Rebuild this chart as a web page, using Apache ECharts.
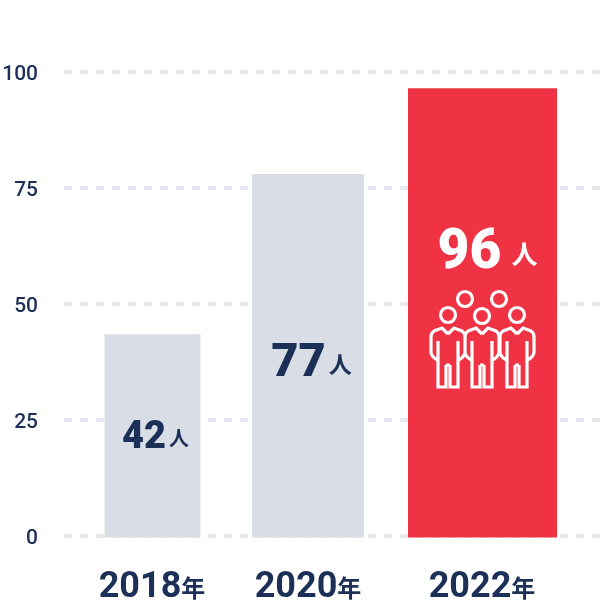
<!DOCTYPE html>
<html>
<head>
<meta charset="utf-8">
<style>html,body{margin:0;padding:0;background:#fff}#main{width:600px;height:600px}</style>
<script src="https://cdn.jsdelivr.net/npm/echarts@6/dist/echarts.min.js"></script>
</head>
<body>
<div id="main"></div>
<script>
// data
var years = ['2018', '2020', '2022'];
var barValues = [43.5, 78, 96.5];
var barLabels = ['42', '77', '96'];

var navy = '#1b2f57';
var font = 'Roboto, "Noto Sans CJK JP", sans-serif';
var cjk = '"Noto Sans CJK JP", sans-serif';

// the bars are not evenly placed in the source, so these are layout tweaks only
var barWidth = [96, 112, 149];
var barShift = [0.5, -9, 0.5];
var barColor = ['#d9dee6', '#d9dee6', '#ef3344'];
var labelLayout = [
    { dx: 3, dy: 3, num: 38, unit: 20, gap: 3, fill: navy },
    { dx: 3.5, dy: 9, num: 47, unit: 23, gap: 3, fill: navy },
    { dx: 5, dy: -58, num: 55, unit: 26, gap: 10, fill: '#fff' }
];

var chart = echarts.init(document.getElementById('main'));

function personPath(cx, top) {
    var half = function (s) {
        var px = function (dx, dy) { return (cx + s * dx) + ',' + (top + dy); };
        return 'M' + px(0, 6) + ' L' + px(6, 0) + ' L' + px(14, 3) + ' Q' + px(17, 5) + ' ' + px(17, 9)
            + ' L' + px(17, 24) + ' Q' + px(17, 28) + ' ' + px(11, 32)
            + ' M' + px(10, 13) + ' L' + px(10, 59) + ' L' + px(2, 59) + ' L' + px(2, 37);
    };
    return half(-1) + ' ' + half(1) + ' M' + (cx - 2) + ',' + (top + 37) + ' L' + (cx + 2) + ',' + (top + 37);
}

function head(x, y) {
    return { type: 'circle', shape: { cx: x, cy: y, r: 7.5 }, style: { fill: 'none', stroke: '#fff', lineWidth: 3.2 } };
}

// people icon inside the last bar
function peopleIcon() {
    return [
        head(465, 299), head(499, 299), head(448, 315), head(482, 316), head(517, 315),
        {
            type: 'path',
            shape: {
                pathData: personPath(448, 328) + ' ' + personPath(482, 328) + ' ' + personPath(517, 328),
                layout: 'cover', x: 431, y: 328, width: 103, height: 59
            },
            style: { fill: 'none', stroke: '#fff', lineWidth: 3.2 }
        }
    ];
}

var option = {
    animation: false,
    grid: [
        { left: 64, top: 72, width: 536, height: 464, outerBoundsMode: 'none' },
        { left: 69.5, top: 72, width: 495, height: 464, outerBoundsMode: 'none' }
    ],
    xAxis: [
        { gridIndex: 0, type: 'category', data: years, show: false },
        {
            gridIndex: 1,
            type: 'category',
            data: [years[0], { value: years[1], textStyle: { padding: [0, 18, 0, 0] } }, years[2]],
            axisLine: { show: false },
            axisTick: { show: false },
            axisLabel: {
                margin: 34,
                interval: 0,
                formatter: function (v) { return '{y|' + v + '}{n|年}'; },
                rich: {
                    y: { fontFamily: font, fontWeight: 700, fontSize: 36, color: navy },
                    n: { fontFamily: cjk, fontWeight: 700, fontSize: 24, color: navy }
                }
            }
        }
    ],
    yAxis: [
        {
            gridIndex: 0,
            type: 'value',
            min: 0,
            max: 100,
            interval: 25,
            axisLine: { show: false },
            axisTick: { show: false },
            axisLabel: {
                margin: 26,
                formatter: '{t|{value}}',
                rich: {
                    t: { padding: [5, 0, 0, 0], fontFamily: font, fontWeight: 500, fontSize: 21, color: navy }
                }
            },
            splitLine: { lineStyle: { color: '#e8e9ef', width: 4, type: [8, 8] } }
        },
        { gridIndex: 1, type: 'value', min: 0, max: 100, interval: 25, show: false }
    ],
    series: [{
        type: 'custom',
        xAxisIndex: 1,
        yAxisIndex: 1,
        clip: false,
        data: barValues.map(function (v, i) { return [i, v]; }),
        renderItem: function (params, api) {
            var i = api.value(0);
            var top = api.coord([i, api.value(1)]);
            var bottom = api.coord([i, 0]);
            var cx = top[0] + barShift[i];
            var w = barWidth[i];
            var lay = labelLayout[i];
            var children = [
                {
                    type: 'rect',
                    shape: { x: cx - w / 2, y: top[1], width: w, height: bottom[1] - top[1] + 1.5 },
                    style: { fill: barColor[i] }
                },
                {
                    type: 'text',
                    x: cx + lay.dx,
                    y: (top[1] + bottom[1]) / 2 + lay.dy,
                    style: {
                        text: '{a|' + barLabels[i] + '}{b|人}',
                        align: 'center',
                        verticalAlign: 'middle',
                        rich: {
                            a: { fontFamily: font, fontWeight: 900, fontSize: lay.num, fill: lay.fill },
                            b: { fontFamily: cjk, fontWeight: 700, fontSize: lay.unit, fill: lay.fill, padding: [0, 0, 0, lay.gap] }
                        }
                    }
                }
            ];
            if (i === 2) {
                children = children.concat(peopleIcon());
            }
            return { type: 'group', children: children };
        }
    }]
};

chart.setOption(option);
</script>
</body>
</html>
